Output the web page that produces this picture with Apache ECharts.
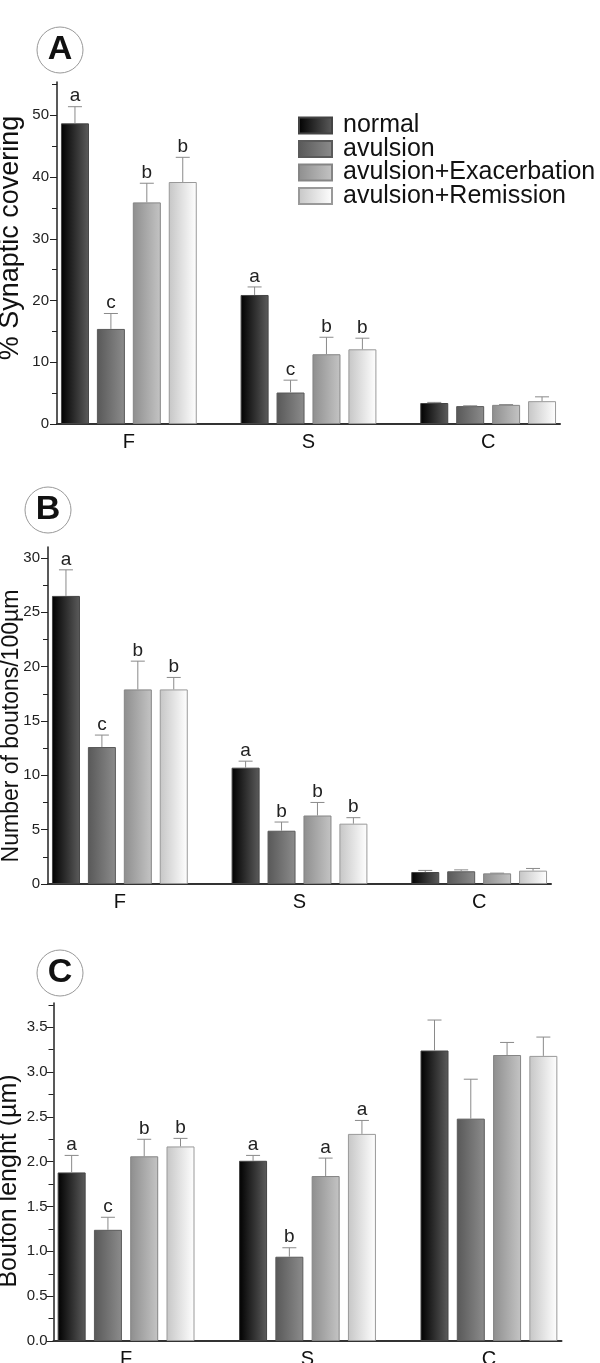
<!DOCTYPE html>
<html>
<head>
<meta charset="utf-8">
<script src="https://cdn.jsdelivr.net/npm/echarts@6/dist/echarts.min.js"></script>
<style>html,body{margin:0;padding:0;background:#fff}#c{width:600px;height:1363px}</style>
</head>
<body>
<div id="c"></div>
<script>
// ---------- data ----------
const categories = ['F', 'S', 'C'];
const seriesNames = ['normal', 'avulsion', 'avulsion+Exacerbation', 'avulsion+Remission'];

// Panel A: % Synaptic covering  (rows = series, cols = F,S,C)
const coverMeans = [[48.7, 20.9, 3.4], [15.4, 5.1, 2.9], [35.9, 11.3, 3.1], [39.2, 12.1, 3.7]];
const coverErrs = [[2.7, 1.3, 0.1], [2.5, 2.0, 0.05], [3.1, 2.75, 0.05], [4.0, 1.8, 0.7]];
const coverLetters = [['a', 'a', ''], ['c', 'c', ''], ['b', 'b', ''], ['b', 'b', '']];

// Panel B: Number of boutons/100µm
const boutonMeans = [[26.5, 10.7, 1.1], [12.6, 4.9, 1.17], [17.9, 6.3, 0.98], [17.9, 5.55, 1.23]];
const boutonErrs = [[2.4, 0.6, 0.15], [1.1, 0.8, 0.13], [2.6, 1.2, 0.02], [1.1, 0.55, 0.2]];
const boutonLetters = [['a', 'a', ''], ['c', 'b', ''], ['b', 'b', ''], ['b', 'b', '']];

// Panel C: Bouton lenght (µm)
const lengthMeans = [[1.88, 2.01, 3.24], [1.24, 0.94, 2.48], [2.06, 1.84, 3.19], [2.17, 2.31, 3.18]];
const lengthErrs = [[0.19, 0.06, 0.34], [0.14, 0.10, 0.44], [0.19, 0.20, 0.14], [0.09, 0.15, 0.21]];
const lengthLetters = [['a', 'a', ''], ['c', 'b', ''], ['b', 'a', ''], ['b', 'a', '']];

// y-axis ticks
const coverTicks = [0, 10, 20, 30, 40, 50];
const coverMinor = [5, 15, 25, 35, 45, 55];
const boutonTicks = [0, 5, 10, 15, 20, 25, 30];
const boutonMinor = [2.5, 7.5, 12.5, 17.5, 22.5, 27.5];
const lengthTicks = [0, 0.5, 1.0, 1.5, 2.0, 2.5, 3.0, 3.5];
const lengthMinor = [0.25, 0.75, 1.25, 1.75, 2.25, 2.75, 3.25, 3.75];

// ---------- build ----------
const FONT = '"Liberation Sans", Arial, sans-serif';
const SLOTS_PER_GROUP = 5;
const slotNames = [];
categories.forEach((c, g) => {
  for (let s = 0; s < 4; s++) slotNames.push(c + s);
  if (g < categories.length - 1) slotNames.push('gap' + g);
});
const nSlots = slotNames.length; // 14

const fills = [
  ['#000000', '#5c5c5c'],
  ['#585858', '#8c8c8c'],
  ['#8e8e8e', '#c4c4c4'],
  ['#c6c6c6', '#ffffff']
];
const borders = ['#444', '#5a5a5a', '#858585', '#999'];

function grad(i) {
  return { type: 'linear', x: 0, y: 0, x2: 1, y2: 0,
    colorStops: [{ offset: 0, color: fills[i][0] }, { offset: 1, color: fills[i][1] }] };
}

const panels = [
  { grid: { left: 57, top: 82, width: 503, height: 342 }, max: 55.4, ticks: coverTicks, minor: coverMinor,
    means: coverMeans, errs: coverErrs, letters: coverLetters, name: '% Synaptic covering',
    nameSize: 27, nameGap: 32.5, namePad: [0, 0, 0, 30], labelMargin: 8, fmt: v => String(v) },
  { grid: { left: 48, top: 547, width: 503, height: 337 }, max: 31, ticks: boutonTicks, minor: boutonMinor,
    means: boutonMeans, errs: boutonErrs, letters: boutonLetters, name: 'Number of boutons/100µm',
    nameSize: 23, nameGap: 24.5, namePad: [0, 21, 0, 0], labelMargin: 8, fmt: v => String(v) },
  { grid: { left: 53.5, top: 1003, width: 508, height: 338 }, max: 3.77, ticks: lengthTicks, minor: lengthMinor,
    means: lengthMeans, errs: lengthErrs, letters: lengthLetters, name: 'Bouton lenght (µm)',
    nameSize: 25, nameGap: 31.5, namePad: [0, 18, 0, 0], labelMargin: 6, fmt: v => v.toFixed(1) }
];

const grids = [], xAxes = [], yAxes = [], series = [];
panels.forEach((p, pi) => {
  grids.push(Object.assign({ containLabel: false, outerBoundsMode: 'none' }, p.grid));
  // category axis for bars (index 2*pi)
  xAxes.push({ type: 'category', gridIndex: pi, position: 'bottom', data: slotNames, boundaryGap: true,
    axisLine: { show: true, lineStyle: { color: '#333', width: 2 } },
    axisTick: { show: false }, axisLabel: { show: false }, splitLine: { show: false } });
  // value axis for group labels (index 2*pi+1)
  xAxes.push({ type: 'value', gridIndex: pi, position: 'bottom', offset: 0, min: 0, max: nSlots, interval: 1,
    axisLine: { show: false }, axisTick: { show: false }, splitLine: { show: false },
    axisLabel: { show: true, margin: 8, fontSize: 20, color: '#111', fontFamily: FONT,
      formatter: v => { const g = (v - 2) / SLOTS_PER_GROUP; return Number.isInteger(g) && categories[g] ? categories[g] : ''; } } });
  // major y axis
  yAxes.push({ type: 'value', gridIndex: pi, min: 0, max: p.max, position: 'left',
    name: p.name, nameLocation: 'middle', nameGap: p.nameGap, nameMoveOverlap: false,
    nameTextStyle: { fontSize: p.nameSize, color: '#111', fontFamily: FONT, padding: p.namePad },
    axisLine: { show: true, lineStyle: { color: '#222', width: 1.5 } },
    axisTick: { show: true, length: 7, customValues: p.ticks, lineStyle: { color: '#222', width: 1 } },
    axisLabel: { show: true, customValues: p.ticks, margin: p.labelMargin, fontSize: 15, color: '#222', fontFamily: FONT, formatter: p.fmt },
    splitLine: { show: false } });
  // minor tick y axis
  yAxes.push({ type: 'value', gridIndex: pi, min: 0, max: p.max, position: 'left', offset: 0,
    axisLine: { show: false }, axisLabel: { show: false }, splitLine: { show: false },
    axisTick: { show: true, length: 5, customValues: p.minor, lineStyle: { color: '#222', width: 1 } } });

  const errData = [], letterList = [];
  seriesNames.forEach((nm, si) => {
    const data = new Array(nSlots).fill('-');
    categories.forEach((c, g) => {
      const slot = g * SLOTS_PER_GROUP + si;
      data[slot] = p.means[si][g];
      errData.push([slot, p.means[si][g], p.errs[si][g]]);
      letterList.push(p.letters[si][g]);
    });
    series.push({ type: 'bar', name: nm, xAxisIndex: 2 * pi, yAxisIndex: 2 * pi, data: data,
      barWidth: 28, barGap: '-100%', animation: false,
      itemStyle: { color: grad(si), borderColor: borders[si], borderWidth: 1 } });
  });
  series.push({ type: 'custom', xAxisIndex: 2 * pi, yAxisIndex: 2 * pi, data: errData, z: 5, animation: false,
    renderItem: (params, api) => {
      const x = api.value(0), v = api.value(1), e = api.value(2);
      const b = api.coord([x, v]);
      const t = api.coord([x, v + e]);
      const letter = letterList[params.dataIndex];
      return { type: 'group', children: [
        { type: 'line', shape: { x1: b[0], y1: b[1], x2: t[0], y2: t[1] }, style: { stroke: '#8a8a8a', lineWidth: 1 } },
        { type: 'line', shape: { x1: t[0] - 7, y1: t[1], x2: t[0] + 7, y2: t[1] }, style: { stroke: '#8a8a8a', lineWidth: 1 } },
        { type: 'text', x: t[0], y: t[1] - 1, style: { text: letter, fill: '#222', font: '19px ' + FONT, textAlign: 'center', textVerticalAlign: 'bottom' } }
      ] };
    } });
});

function circleTitle(letter, left, top) {
  return { text: '{c|' + letter + '}', left: left, top: top, padding: 0,
    textStyle: { rich: { c: { width: 46, height: 46, lineHeight: 46, align: 'center', verticalAlign: 'middle',
      borderRadius: 23, borderColor: '#999', borderWidth: 1, fontSize: 34, fontWeight: 'bold', color: '#111', fontFamily: FONT } } } };
}

const chart = echarts.init(document.getElementById('c'), null, { renderer: 'canvas' });
chart.setOption({
  backgroundColor: '#fff',
  animation: false,
  title: [circleTitle('A', 37, 27), circleTitle('B', 25, 487), circleTitle('C', 37, 950)],
  legend: { show: true, orient: 'vertical', left: 293, top: 108, itemWidth: 33, itemHeight: 16, itemGap: -1.5,
    icon: 'rect', data: seriesNames, selectedMode: false,
    textStyle: { fontSize: 25, lineHeight: 20, color: '#111', fontFamily: FONT, padding: [0, 0, 0, 6] } },
  grid: grids,
  xAxis: xAxes,
  yAxis: yAxes,
  series: series
});
</script>
</body>
</html>
